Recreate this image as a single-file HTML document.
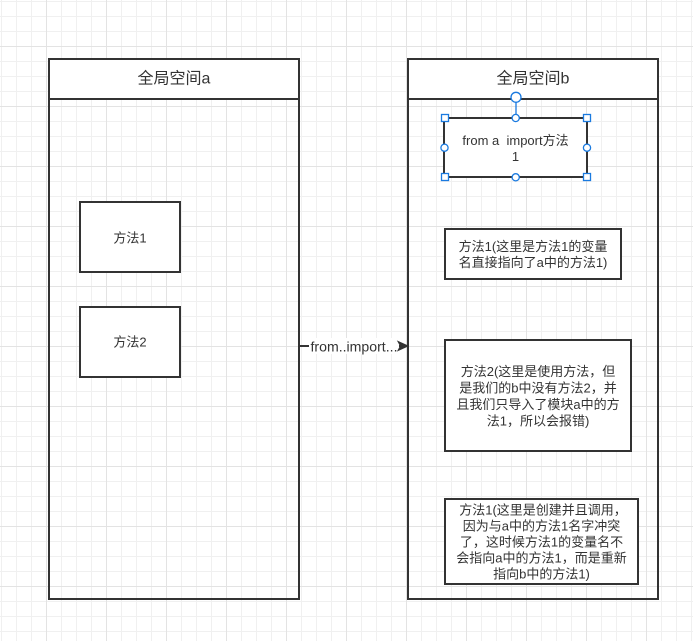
<!DOCTYPE html>
<html>
<head>
<meta charset="utf-8">
<style>
  html, body { margin: 0; padding: 0; background: #fff; }
  svg { display: block; }
  text { font-family: "Liberation Sans", "Noto Sans CJK SC", sans-serif; fill: #333; }
</style>
</head>
<body>
<svg width="693" height="641" viewBox="0 0 693 641" xmlns="http://www.w3.org/2000/svg">
  <defs>
    <pattern id="grid" patternUnits="userSpaceOnUse" x="46" y="46" width="60" height="60">
      <rect x="0" y="0" width="60" height="60" fill="#ffffff"/>
      <rect x="15" y="0" width="1" height="60" fill="#f0f0f0"/>
      <rect x="30" y="0" width="1" height="60" fill="#f0f0f0"/>
      <rect x="45" y="0" width="1" height="60" fill="#f0f0f0"/>
      <rect x="0" y="15" width="60" height="1" fill="#f0f0f0"/>
      <rect x="0" y="30" width="60" height="1" fill="#f0f0f0"/>
      <rect x="0" y="45" width="60" height="1" fill="#f0f0f0"/>
      <rect x="0" y="0" width="1" height="60" fill="#e3e3e3"/>
      <rect x="0" y="0" width="60" height="1" fill="#e3e3e3"/>
    </pattern>
  </defs>
  <rect x="0" y="0" width="693" height="641" fill="url(#grid)"/>

  <!-- Left container -->
  <rect x="49" y="59" width="250" height="40" fill="#fff"/>
  <rect x="49" y="59" width="250" height="540" fill="none" stroke="#333" stroke-width="2"/>
  <line x1="49" y1="99" x2="299" y2="99" stroke="#333" stroke-width="2"/>
  <text x="174" y="79" font-size="16" text-anchor="middle" dominant-baseline="central">全局空间a</text>

  <!-- Right container -->
  <rect x="408" y="59" width="250" height="40" fill="#fff"/>
  <rect x="408" y="59" width="250" height="540" fill="none" stroke="#333" stroke-width="2"/>
  <line x1="408" y1="99" x2="658" y2="99" stroke="#333" stroke-width="2"/>
  <text x="533" y="79" font-size="16" text-anchor="middle" dominant-baseline="central">全局空间b</text>

  <!-- Left boxes -->
  <rect x="80" y="202" width="100" height="70" fill="#fff" stroke="#333" stroke-width="2"/>
  <text x="130" y="238" font-size="13" text-anchor="middle" dominant-baseline="central">方法1</text>
  <rect x="80" y="307" width="100" height="70" fill="#fff" stroke="#333" stroke-width="2"/>
  <text x="130" y="342" font-size="13" text-anchor="middle" dominant-baseline="central">方法2</text>

  <!-- Connector -->
  <line x1="299" y1="346" x2="400" y2="346" stroke="#333" stroke-width="2"/>
  <rect x="309" y="338" width="90" height="16" fill="#fff"/>
  <text x="354" y="346.5" font-size="14" text-anchor="middle" dominant-baseline="central" textLength="87" lengthAdjust="spacingAndGlyphs">from..import...</text>
  <polygon points="408,346 398,341.5 400.5,346 398,350.5" fill="#333" stroke="#333" stroke-width="1"/>

  <!-- Right boxes -->
  <!-- selected box -->
  <rect x="444" y="118" width="143" height="59" fill="#fff" stroke="#333" stroke-width="2"/>
  <text x="515.5" y="140.5" font-size="13" text-anchor="middle" dominant-baseline="central" xml:space="preserve">from a  import方法</text>
  <text x="515.5" y="156.5" font-size="13" text-anchor="middle" dominant-baseline="central">1</text>
  <!-- selection handles -->
  <line x1="516" y1="102" x2="516" y2="118" stroke="#1a7ae0" stroke-width="1.3"/>
  <circle cx="516" cy="97.3" r="5" fill="#fff" stroke="#1a7ae0" stroke-width="1.3"/>
  <rect x="441.5" y="114.5" width="7" height="7" fill="#fff" stroke="#1a7ae0" stroke-width="1.3"/>
  <rect x="583.5" y="114.5" width="7" height="7" fill="#fff" stroke="#1a7ae0" stroke-width="1.3"/>
  <rect x="441.5" y="173.5" width="7" height="7" fill="#fff" stroke="#1a7ae0" stroke-width="1.3"/>
  <rect x="583.5" y="173.5" width="7" height="7" fill="#fff" stroke="#1a7ae0" stroke-width="1.3"/>
  <circle cx="515.7" cy="118" r="3.6" fill="#fff" stroke="#1a7ae0" stroke-width="1.3"/>
  <circle cx="515.7" cy="177.3" r="3.6" fill="#fff" stroke="#1a7ae0" stroke-width="1.3"/>
  <circle cx="444.5" cy="147.7" r="3.6" fill="#fff" stroke="#1a7ae0" stroke-width="1.3"/>
  <circle cx="587" cy="147.7" r="3.6" fill="#fff" stroke="#1a7ae0" stroke-width="1.3"/>

  <rect x="445" y="229" width="176" height="50" fill="#fff" stroke="#333" stroke-width="2"/>
  <text x="533" y="246.5" font-size="13" text-anchor="middle" dominant-baseline="central">方法1(这里是方法1的变量</text>
  <text x="533" y="262.5" font-size="13" text-anchor="middle" dominant-baseline="central">名直接指向了a中的方法1)</text>

  <rect x="445" y="340" width="186" height="111" fill="#fff" stroke="#333" stroke-width="2"/>
  <text x="538" y="371.5" font-size="13" text-anchor="middle" dominant-baseline="central">方法2(这里是使用方法，但</text>
  <text x="538" y="388" font-size="13" text-anchor="middle" dominant-baseline="central">是我们的b中没有方法2，并</text>
  <text x="538" y="404.5" font-size="13" text-anchor="middle" dominant-baseline="central">且我们只导入了模块a中的方</text>
  <text x="538" y="421" font-size="13" text-anchor="middle" dominant-baseline="central">法1，所以会报错)</text>

  <rect x="445" y="499" width="193" height="85" fill="#fff" stroke="#333" stroke-width="2"/>
  <text x="543" y="510" font-size="13" text-anchor="middle" dominant-baseline="central">方法1(这里是创建并且调用，</text>
  <text x="541.5" y="526" font-size="13" text-anchor="middle" dominant-baseline="central">因为与a中的方法1名字冲突</text>
  <text x="541.5" y="542" font-size="13" text-anchor="middle" dominant-baseline="central">了，这时候方法1的变量名不</text>
  <text x="541.5" y="558" font-size="13" text-anchor="middle" dominant-baseline="central">会指向a中的方法1，而是重新</text>
  <text x="541.5" y="574" font-size="13" text-anchor="middle" dominant-baseline="central">指向b中的方法1)</text>
</svg>
</body>
</html>
